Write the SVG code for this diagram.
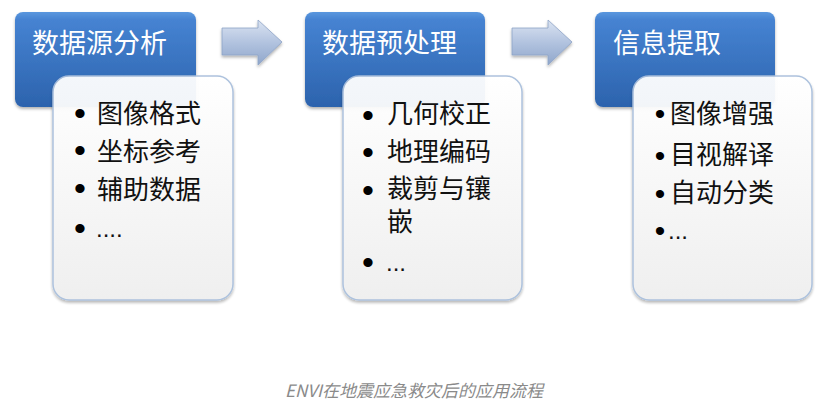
<svg xmlns="http://www.w3.org/2000/svg" width="825" height="414" viewBox="0 0 825 414">
<defs>
<linearGradient id="gBlue" x1="0" y1="0" x2="0" y2="1">
<stop offset="0" stop-color="#5a97de"/>
<stop offset="0.08" stop-color="#4683d2"/>
<stop offset="1" stop-color="#2c63ad"/>
</linearGradient>
<linearGradient id="gWhite" x1="0" y1="0" x2="0" y2="1">
<stop offset="0" stop-color="#ffffff"/>
<stop offset="1" stop-color="#efefef"/>
</linearGradient>
<linearGradient id="gArrow" x1="0" y1="0" x2="0" y2="1">
<stop offset="0" stop-color="#dbe4f2"/>
<stop offset="0.5" stop-color="#b2c3df"/>
<stop offset="1" stop-color="#8fa6cb"/>
</linearGradient>
<filter id="sh" x="-10%" y="-10%" width="125%" height="130%">
<feDropShadow dx="0" dy="2" stdDeviation="1.5" flood-color="#000" flood-opacity="0.3"/>
</filter>
<path id="arrow" d="M0,18 H36 V10 L60,32 L36,55 V45 H0 Z"/>
</defs>
<style>
.head{fill:url(#gBlue);filter:url(#sh)}
.card{fill:url(#gWhite);stroke:#a9bfdc;stroke-width:1.5;opacity:0.95;filter:url(#sh)}
.ttl{font-family:"Noto Sans CJK SC","Liberation Sans",sans-serif;font-size:27px;fill:#ffffff}
.itm{font-family:"Noto Sans CJK SC","Liberation Sans",sans-serif;font-size:26px;fill:#111111}
.bul{font-family:"Liberation Sans",sans-serif;font-size:34px;fill:#000;text-anchor:middle}
.bul3{font-family:"Liberation Sans",sans-serif;font-size:30px;fill:#000;text-anchor:middle}
.dots{font-family:"Liberation Sans",sans-serif;font-size:24px;fill:#111111}
.arr{fill:url(#gArrow);stroke:#8ea3c6;stroke-width:0.8;filter:url(#sh)}
.cap{font-family:"Noto Sans CJK SC","Liberation Sans",sans-serif;font-size:17px;font-style:italic;fill:#8a8a8a;text-anchor:middle}
</style>
<g id="connectors">
<use href="#arrow" class="arr" x="222" y="10"/>
<use href="#arrow" class="arr" x="512" y="10"/>
</g>
<g id="node1">
<rect class="head" x="15" y="12" width="181" height="95" rx="8"/>
<text class="ttl" x="32" y="53">数据源分析</text>
<rect class="card" x="53" y="76" width="180" height="224" rx="16"/>
<text class="bul" x="80" y="125">•</text><text class="itm" x="97" y="123">图像格式</text>
<text class="bul" x="80" y="162">•</text><text class="itm" x="97" y="161">坐标参考</text>
<text class="bul" x="80" y="200">•</text><text class="itm" x="97" y="199">辅助数据</text>
<text class="bul" x="80" y="240">•</text><text class="dots" x="96" y="237">....</text>
</g>
<g id="node2">
<rect class="head" x="305" y="12" width="180" height="95" rx="8"/>
<text class="ttl" x="322" y="53">数据预处理</text>
<rect class="card" x="343" y="76" width="179" height="224" rx="16"/>
<text class="bul" x="368" y="127">•</text><text class="itm" x="387" y="123">几何校正</text>
<text class="bul" x="368" y="164">•</text><text class="itm" x="387" y="161">地理编码</text>
<text class="bul" x="368" y="202">•</text><text class="itm"><tspan x="387" y="198">裁剪与镶</tspan><tspan x="387" y="231">嵌</tspan></text>
<text class="bul" x="368" y="274">•</text><text class="dots" x="386" y="271">...</text>
</g>
<g id="node3">
<rect class="head" x="595" y="12" width="180" height="95" rx="8"/>
<text class="ttl" x="613" y="53">信息提取</text>
<rect class="card" x="633" y="76" width="179" height="224" rx="16"/>
<text class="bul3" x="660" y="124">•</text><text class="itm" x="670" y="123">图像增强</text>
<text class="bul3" x="660" y="166">•</text><text class="itm" x="670" y="164">目视解译</text>
<text class="bul3" x="660" y="204">•</text><text class="itm" x="670" y="202">自动分类</text>
<text class="bul3" x="660" y="241">•</text><text class="dots" x="668" y="239">...</text>
</g>
<text class="cap" x="414" y="397">ENVI在地震应急救灾后的应用流程</text>
</svg>
